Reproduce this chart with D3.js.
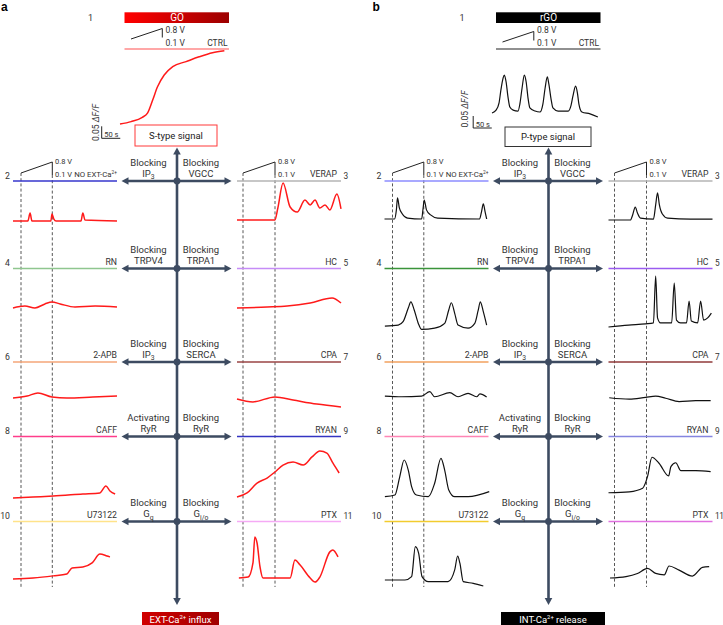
<!DOCTYPE html>
<html>
<head>
<meta charset="utf-8">
<script src="https://cdn.jsdelivr.net/npm/d3@7"></script>
<style>
  body { margin: 0; background: #fff; }
  svg { font-family: Roboto, "DejaVu Sans", sans-serif; }
  text { white-space: pre; }
</style>
</head>
<body>
<div id="wrapper"></div>
<script>
// 1. Data  (time in s, value in ΔF/F above the trace's own baseline)

// panel a : GO
const goCtrl = [[0,0],[30,0.01],[60,0.028],[74,0.045],[88,0.1],[101,0.155],[119,0.204],[142,0.239],[178,0.26],[213,0.28],[249,0.297],[281,0.305]]
const goNoExtCa = [[0,0],[40,0],[46,0.033],[51,0],[102,0],[105,0.029],[110,0.008],[116,0],[183,0],[188,0.033],[194,0.004],[280,0]]
const goVerap = [[0,0],[102,0],[110,0.05],[124,0.154],[143,0.054],[162,0.033],[183,0.083],[197,0.063],[210,0.083],[223,0.05],[237,0.063],[250,0.042],[269,0.108],[280,0.046]]
const goRn = [[0,0],[32,0.008],[59,0],[86,0.017],[105,0.025],[127,0.017],[167,0.004],[221,0.008],[280,0.004]]
const goHc = [[0,0],[81,0.004],[135,0.008],[197,0.021],[256,0.042],[280,0.021]]
const go2apb = [[0,0],[38,0.008],[67,0.021],[105,0.004],[145,0],[215,0.004],[280,0.008]]
const goCpa = [[0,0.004],[43,-0.008],[102,0.013],[151,0],[215,-0.017],[280,-0.029]]
const goCaff = [[0,-0.004],[54,0],[108,0.004],[188,0.0125],[234,0.017],[250,0.046],[261,0.025],[275,0.0125]]
const goRyan = [[0,0],[27,0.017],[54,0.058],[81,0.079],[102,0.104],[124,0.133],[151,0.146],[178,0.133],[202,0.167],[223,0.192],[242,0.183],[258,0.142],[275,0.1]]
const goU73122 = [[0,0],[54,0.004],[108,0.013],[145,0.021],[159,0.046],[188,0.05],[213,0.067],[234,0.104],[253,0.096],[261,0.092]]
const goPtx = [[5,0.004],[30,0.008],[43,0.067],[48,0.175],[54,0.15],[62,0.05],[70,0.004],[108,0.004],[143,0.004],[156,0.079],[170,0.058],[197,0.004],[210,-0.013],[223,0.008],[250,0.113],[258,0.121],[272,0.092]]

// panel b : rGO
const rgoCtrl = [[0,-0.004],[11,0.008],[19,0.038],[24,0.092],[30,0.142],[33,0.154],[38,0.125],[43,0.063],[48,0.021],[57,0.008],[70,0.004],[75,0.033],[81,0.1],[87,0.154],[92,0.125],[97,0.058],[102,0.017],[116,0.004],[129,0],[137,0.033],[143,0.1],[149,0.146],[153,0.117],[159,0.054],[164,0.017],[178,0.004],[205,0.004],[213,0.029],[218,0.067],[225,0.108],[230,0.079],[234,0.033],[242,0],[264,-0.008],[285,-0.021]]
const rgoNoExtCa = [[0,0],[27,0],[32,0.038],[35,0.088],[40,0.046],[48,0.021],[62,0.004],[100,0],[104,0.046],[107,0.079],[113,0.038],[124,0.017],[143,0.004],[256,0],[261,0.029],[266,0.063],[271,0.029],[275,0]]
const rgoVerap = [[0,0],[59,0],[65,0.021],[72,0.054],[78,0.029],[86,0.008],[121,0.004],[127,0.063],[132,0.113],[137,0.063],[145,0.025],[159,0.008],[221,0.004],[280,0.004]]
const rgoRn = [[1,0.004],[37,0.008],[50,0.022],[64,0.079],[71,0.105],[80,0.071],[91,0.015],[100,-0.01],[135,-0.005],[162,0.015],[173,0.071],[180,0.101],[189,0.057],[198,0.008],[225,-0.005],[243,0.015],[252,0.068],[258,0.105],[266,0.064],[275,0.008]]
const rgoHc = [[0,0],[54,0.008],[100,0.013],[121,0.017],[127,0.212],[132,0.038],[140,0.017],[170,0.017],[177,0.183],[183,0.029],[194,0.017],[210,0.017],[217,0.108],[223,0.025],[240,0.017],[248,0.108],[256,0.029],[267,0.038],[277,0.058]]
const rgo2apb = [[1,0.004],[46,0.001],[100,0.004],[122,0.022],[135,0.001],[176,0.018],[198,0.001],[225,0.015],[248,0.001],[257,0.013],[275,0]]
const rgoCpa = [[2,0.001],[56,-0.005],[100,0.003],[127,0.008],[154,-0.001],[190,-0.015],[235,-0.011],[275,-0.011]]
const rgoCaff = [[1,-0.003],[28,0.004],[41,0.08],[53,0.15],[64,0.108],[73,0.039],[86,0.004],[118,-0.003],[135,0.053],[152,0.157],[162,0.108],[173,0.025],[189,-0.003],[225,-0.003],[282,0.018]]
const rgoRyan = [[0,0.001],[56,0.005],[92,0.02],[105,0.068],[117,0.149],[136,0.124],[162,0.071],[168,0.11],[181,0.126],[195,0.093],[235,0.093],[275,0.089]]
const rgoU73122 = [[1,0],[55,0],[73,0.014],[83,0.139],[92,0.111],[101,0.014],[118,-0.007],[171,-0.007],[189,0.042],[197,0.1],[203,0.07],[212,-0.007],[239,-0.014],[266,-0.025]]
const rgoPtx = [[4,0],[47,0.006],[78,0.019],[105,0.04],[127,0.019],[150,0.013],[163,0.05],[190,0.033],[226,0.008],[253,0.044],[271,0.047]]

// labels
const agents = ["GO", "rGO"]
const signals = ["S-type signal", "P-type signal"]
const outcomes = ["EXT-Ca^{2+} influx", "INT-Ca^{2+} release"]
const rowNumsLeft = ["2", "4", "6", "8", "10"]
const rowNumsRight = ["3", "5", "7", "9", "11"]
const drugsLeft = ["NO EXT-Ca^{2+}", "RN", "2-APB", "CAFF", "U73122"]
const drugsRight = ["VERAP", "HC", "CPA", "RYAN", "PTX"]
const actionsLeft = [["Blocking", "IP_{3}"], ["Blocking", "TRPV4"], ["Blocking", "IP_{3}"], ["Activating", "RyR"], ["Blocking", "G_{q}"]]
const actionsRight = [["Blocking", "VGCC"], ["Blocking", "TRPA1"], ["Blocking", "SERCA"], ["Blocking", "RyR"], ["Blocking", "G_{i/o}"]]

// 2. Dimensions
const width = 723
const height = 625
const rowY = [181, 268.5, 362, 436.5, 521.5]
const arrowColor = "#3d4b61"
const textColor = "#333"

const tScale = d3.scaleLinear().domain([0, 280]).range([0, 104])
const fScale = d3.scaleLinear().domain([0, 0.05]).range([0, -12])

const panels = [
  {
    dx: 0, letter: "a", traceColor: "#ff1a1a", traceWidth: 1.5,
    ctrl: goCtrl, ctrlX: 120, ctrlBase: 124,
    left: [goNoExtCa, goRn, go2apb, goCaff, goU73122],
    right: [goVerap, goHc, goCpa, goRyan, goPtx],
    baseL: [221, 308, 398, 497, 579],
    baseR: [220, 308, 400, 497, 579],
    colorsL: ["#3636cc", "#8fc68f", "#f5a678", "#ff3d8b", "#ffe38a"],
    colorsR: ["#b5b5b5", "#c58cf7", "#9a4444", "#3434c2", "#f5aaf5"],
    barFill: "url(#goGrad)", ctrlLine: "#ff5050", ramp: [39, 28.5],
    scaleBottom: 138.3, dffLabel: [96, 122.5],
    box: [135, 125, 82, 21], boxStroke: "#ff3838",
    outBox: [142, 612, 77], outFill: "url(#outGrad)"
  },
  {
    dx: 371.5, letter: "b", traceColor: "#111", traceWidth: 1.2,
    ctrl: rgoCtrl, ctrlX: 120.5, ctrlBase: 112,
    left: [rgoNoExtCa, rgoRn, rgo2apb, rgoCaff, rgoU73122],
    right: [rgoVerap, rgoHc, rgoCpa, rgoRyan, rgoPtx],
    baseL: [219, 327, 397, 496, 580],
    baseR: [220, 327, 398, 493, 578],
    colorsL: ["#8c8cff", "#3a943a", "#f2a05e", "#ff85b5", "#f2cc2e"],
    colorsR: ["#b4b4b4", "#9a5cf0", "#903a3a", "#8585e0", "#e070e0"],
    barFill: "#000", ctrlLine: "#222", ramp: [42, 31.5],
    scaleBottom: 128, dffLabel: [93.5, 109],
    box: [133.5, 127, 86, 19.5], boxStroke: "#333",
    outBox: [129.5, 612, 104], outFill: "#000"
  }
]

// 3. Draw canvas
const wrapper = d3.select("#wrapper")
  .append("svg")
    .attr("width", width)
    .attr("height", height)

const defs = wrapper.append("defs")
const goGrad = defs.append("linearGradient").attr("id", "goGrad")
goGrad.append("stop").attr("offset", "0%").attr("stop-color", "#ff0000")
goGrad.append("stop").attr("offset", "100%").attr("stop-color", "#9c0000")
const outGrad = defs.append("linearGradient").attr("id", "outGrad")
outGrad.append("stop").attr("offset", "0%").attr("stop-color", "#d00000")
outGrad.append("stop").attr("offset", "100%").attr("stop-color", "#a00000")

// text with ^{sup} and _{sub}
function rich(sel, s, size) {
  const re = /([\^_])\{([^}]*)\}/g
  let last = 0, shift = 0, m
  while ((m = re.exec(s))) {
    if (m.index > last) {
      sel.append("tspan").attr("dy", -shift).text(s.slice(last, m.index))
      shift = 0
    }
    const sup = m[1] === "^"
    const d = sup ? -size * 0.42 : size * 0.3
    sel.append("tspan").attr("dy", d - shift).attr("font-size", size * (sup ? 0.62 : 0.72)).text(m[2])
    shift = d
    last = re.lastIndex
  }
  if (last < s.length) sel.append("tspan").attr("dy", -shift).text(s.slice(last))
}

function label(g, x, y, s, size, anchor, color) {
  const t = g.append("text")
    .attr("x", x).attr("y", y)
    .attr("font-size", size)
    .attr("text-anchor", anchor)
    .attr("fill", color || textColor)
  rich(t, s, size)
  return t
}

function head(g, x, y, dir) {
  const L = 7, W = 3.8
  const pts = {
    left: [[x, y], [x + L, y - W], [x + L, y + W]],
    right: [[x, y], [x - L, y - W], [x - L, y + W]],
    up: [[x, y], [x - W, y + L], [x + W, y + L]],
    down: [[x, y], [x - W, y - L], [x + W, y - L]]
  }[dir]
  g.append("polygon").attr("points", pts.map(p => p.join(",")).join(" ")).attr("fill", arrowColor)
}

function trace(g, data, x0, y0, p) {
  const line = d3.line()
    .x(d => x0 + tScale(d[0]))
    .y(d => y0 + fScale(d[1]))
    .curve(d3.curveMonotoneX)
  g.append("path")
    .attr("d", line(data))
    .attr("fill", "none")
    .attr("stroke", p.traceColor)
    .attr("stroke-width", p.traceWidth)
    .attr("stroke-linejoin", "round")
}

function ramp(g, x1, y1, x2, y2, yEnd) {
  g.append("path")
    .attr("d", `M${x1},${y1}L${x2},${y2}V${yEnd}`)
    .attr("fill", "none").attr("stroke", "#222").attr("stroke-width", 1)
}

panels.forEach((p, pi) => {
  const g = wrapper.append("g").attr("transform", `translate(${p.dx},0)`)
  const cx = 177

  // 4. Header
  g.append("text").attr("x", 1).attr("y", 10.5)
    .attr("font-size", 12).attr("font-weight", "bold")
    .attr("font-family", "Liberation Sans, Arial, sans-serif")
    .text(p.letter)
  g.append("text").attr("x", 88).attr("y", 20.5).attr("font-size", 9).attr("fill", textColor).text("1")
  g.append("rect").attr("x", 124.5).attr("y", 12.3).attr("width", 104.5).attr("height", 10.7).attr("fill", p.barFill)
  g.append("text").attr("x", 177).attr("y", 21.3).attr("font-size", 10)
    .attr("text-anchor", "middle").attr("fill", "#fff").text(agents[pi])
  ramp(g, 131, p.ramp[0], 162.3, p.ramp[1], p.ramp[1] + 9)
  g.append("text").attr("x", 165.5).attr("y", 33).attr("font-size", 8.5).attr("fill", textColor).text("0.8 V")
  g.append("text").attr("x", 165.5).attr("y", 45.5).attr("font-size", 8.5).attr("fill", textColor).text("0.1 V")
  g.append("text").attr("x", 227.5).attr("y", 46).attr("font-size", 8.5)
    .attr("text-anchor", "end").attr("fill", textColor).text("CTRL")
  g.append("line").attr("x1", 124.5).attr("x2", 229).attr("y1", 49).attr("y2", 49)
    .attr("stroke", p.ctrlLine).attr("stroke-width", 1.2)

  trace(g, p.ctrl, p.ctrlX, p.ctrlBase, p)

  // scale bar
  const sx = 101.7, sy = p.scaleBottom
  g.append("path")
    .attr("d", `M${sx},${sy + fScale(0.05)}V${sy}H${sx + tScale(50)}`)
    .attr("fill", "none").attr("stroke", "#222").attr("stroke-width", 1)
  g.append("text").attr("x", sx + 2.5).attr("y", sy - 1.5).attr("font-size", 7.5).attr("fill", textColor).text("50 s")
  const dl = g.append("text")
    .attr("transform", `translate(${p.dffLabel[0]},${p.dffLabel[1]}) rotate(-90)`)
    .attr("text-anchor", "middle").attr("dy", "0.35em")
    .attr("font-size", 8.5).attr("fill", textColor)
  dl.append("tspan").text("0.05 ")
  dl.append("tspan").attr("font-style", "italic").text("ΔF/F")

  // signal box
  g.append("rect").attr("x", p.box[0]).attr("y", p.box[1]).attr("width", p.box[2]).attr("height", p.box[3])
    .attr("fill", "#fff").attr("stroke", p.boxStroke).attr("stroke-width", 1)
  g.append("text").attr("x", p.box[0] + p.box[2] / 2).attr("y", p.box[1] + p.box[3] / 2 + 3.3)
    .attr("font-size", 9.5).attr("text-anchor", "middle").attr("fill", "#222").text(signals[pi])

  // 5. Central axis
  g.append("line").attr("x1", cx).attr("x2", cx).attr("y1", 153).attr("y2", 599)
    .attr("stroke", arrowColor).attr("stroke-width", 2.6)
  head(g, cx, 147.5, "up")
  head(g, cx, 605, "down")

  // dashed guides
  const dashX = [[21, 173], [52.3, 175], [243, 173], [275, 175]]
  dashX.forEach(([x, y1]) => {
    g.append("line").attr("x1", x).attr("x2", x).attr("y1", y1).attr("y2", 587)
      .attr("stroke", "#444").attr("stroke-width", 0.9).attr("stroke-dasharray", "3,2.2")
  })

  // voltage ramps of row 2/3
  ramp(g, 21, 173, 52.3, 162, 175)
  ramp(g, 243, 173, 275, 162, 175)
  ;[55, 278].forEach(x => {
    g.append("text").attr("x", x).attr("y", 163.5).attr("font-size", 7.5).attr("fill", textColor).text("0.8 V")
    g.append("text").attr("x", x).attr("y", 176.5).attr("font-size", 7.5).attr("fill", textColor).text("0.1 V")
  })

  // 6. Rows
  rowY.forEach((y, i) => {
    // coloured drug lines
    g.append("line").attr("x1", 13).attr("x2", 117).attr("y1", y).attr("y2", y)
      .attr("stroke", p.colorsL[i]).attr("stroke-width", 1.5)
    g.append("line").attr("x1", 237).attr("x2", 341).attr("y1", y).attr("y2", y)
      .attr("stroke", p.colorsR[i]).attr("stroke-width", 1.5)

    label(g, 117, y - 3.8, drugsLeft[i], i === 0 ? 7.8 : 8.7, "end")
    label(g, 337, y - 3.8, drugsRight[i], 8.7, "end")
    label(g, 10, y - 2.5, rowNumsLeft[i], 8.7, "end")
    label(g, 343.5, y - 2.5, rowNumsRight[i], 8.3, "start").attr("letter-spacing", -0.3)

    // horizontal arrow
    g.append("line").attr("x1", 127).attr("x2", 226).attr("y1", y).attr("y2", y)
      .attr("stroke", arrowColor).attr("stroke-width", 2.6)
    head(g, 121.5, y, "left")
    head(g, 231.5, y, "right")
    g.append("circle").attr("cx", cx).attr("cy", y).attr("r", 3.4).attr("fill", arrowColor)

    label(g, 148.5, y - 15.5, actionsLeft[i][0], 9.5, "middle")
    label(g, 148.5, y - 4.5, actionsLeft[i][1], 9.5, "middle")
    label(g, 201, y - 15.5, actionsRight[i][0], 9.5, "middle")
    label(g, 201, y - 4.5, actionsRight[i][1], 9.5, "middle")

    // traces
    trace(g, p.left[i], 13, p.baseL[i], p)
    trace(g, p.right[i], 237, p.baseR[i], p)
  })

  // outcome box
  const [ox, oy, ow] = p.outBox
  g.append("rect").attr("x", ox).attr("y", oy).attr("width", ow).attr("height", 14).attr("fill", p.outFill)
  label(g, ox + ow / 2, oy + 10.5, outcomes[pi], 9.5, "middle", "#fff")
})
</script>
</body>
</html>
